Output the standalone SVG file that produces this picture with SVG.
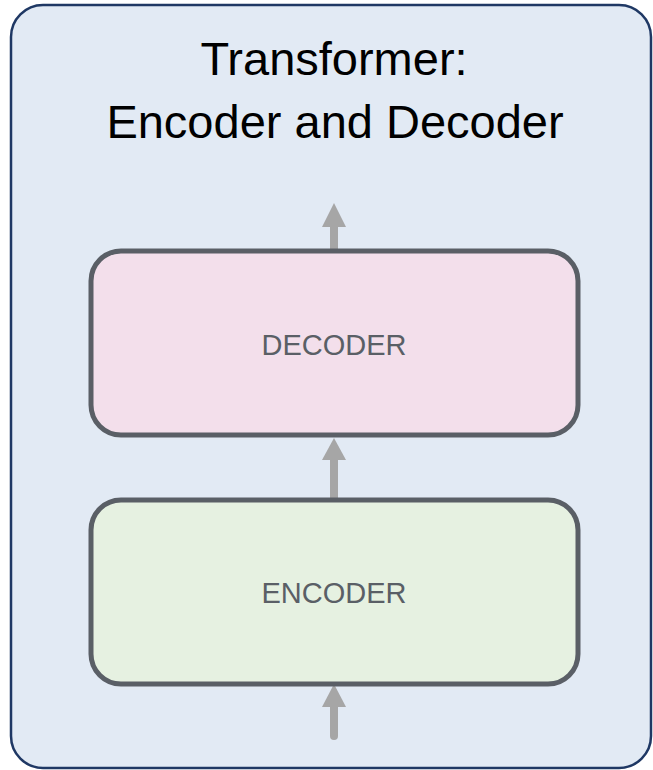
<svg xmlns="http://www.w3.org/2000/svg" width="653" height="770" viewBox="0 0 653 770">
<style>
.box{stroke:#5a5f66;stroke-width:5}
.lbl{font-family:"Liberation Sans",Arial,sans-serif;font-size:29px;fill:#5a5f66;text-anchor:middle}
.title{font-family:"Liberation Sans",Arial,sans-serif;font-size:47px;fill:#000;text-anchor:middle}
.shaft{stroke:#a6a6a6;stroke-width:8;stroke-linecap:round;fill:none}
.head{fill:#a6a6a6}
</style>
<g id="frame">
<rect x="11" y="5" width="640" height="763" rx="32" fill="#e2eaf4" stroke="#1f3864" stroke-width="2.5"/>
<text class="title" x="334" y="75">Transformer:</text>
<text class="title" x="335" y="138">Encoder and Decoder</text>
</g>
<g id="connectors">
<line class="shaft" x1="334" y1="225" x2="334" y2="249" style="stroke-linecap:butt"/>
<polygon class="head" points="334,203 346,227 322,227"/>
<line class="shaft" x1="334" y1="456" x2="334" y2="502"/>
<polygon class="head" points="334,438 346,460 322,460"/>
<line class="shaft" x1="334" y1="704" x2="334" y2="736"/>
<polygon class="head" points="334,684 346,707 322,707"/>
</g>
<g id="decoder">
<rect class="box" x="91" y="251" width="487" height="184" rx="30" fill="#f3dfeb"/>
<text class="lbl" x="334" y="355">DECODER</text>
</g>
<g id="encoder">
<rect class="box" x="91" y="500" width="487" height="184" rx="30" fill="#e6f1e1"/>
<text class="lbl" x="334" y="603">ENCODER</text>
</g>
</svg>
